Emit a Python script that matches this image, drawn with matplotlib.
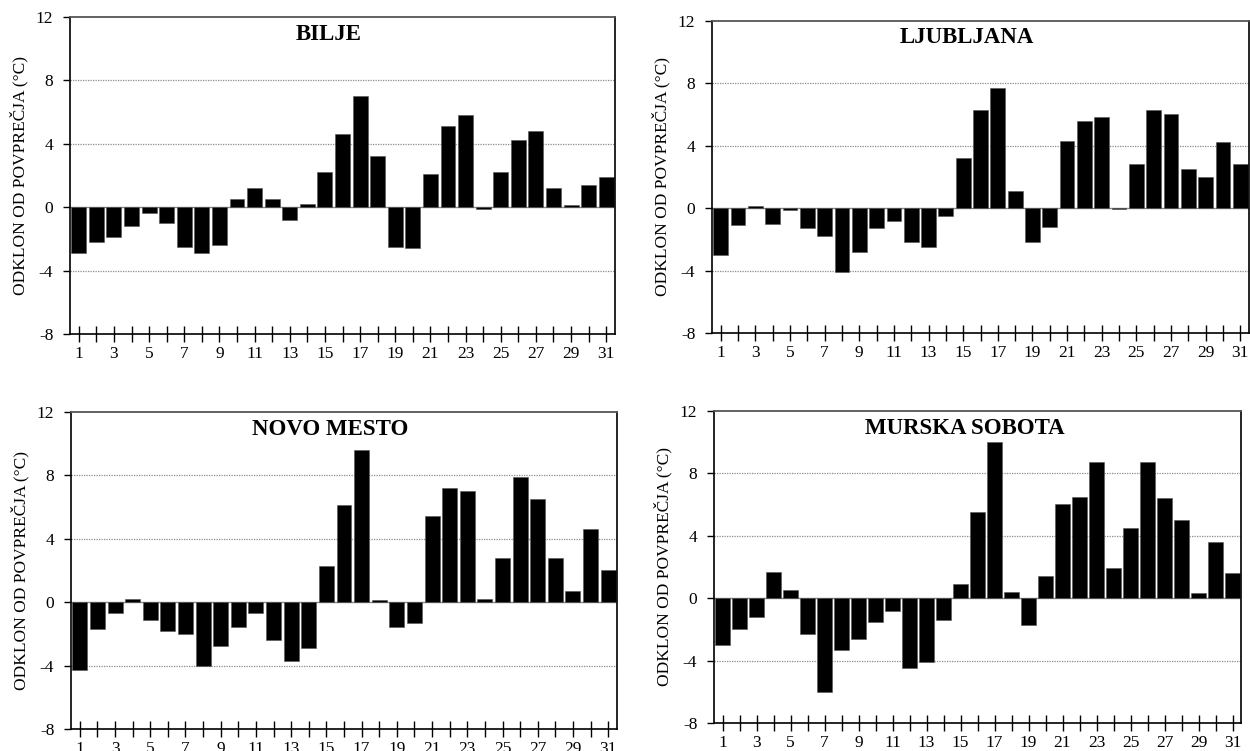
import matplotlib
matplotlib.use("Agg")
import matplotlib.pyplot as plt

plt.rcParams['font.family'] = ['Liberation Serif', 'DejaVu Serif']

days = list(range(1, 32))
day_labels = [str(d) if d % 2 == 1 else "" for d in days]
y_ticks = [-8, -4, 0, 4, 8, 12]
y_label = "ODKLON OD POVPREČJA (°C)"

bilje = [-2.9, -2.2, -1.9, -1.2, -0.4, -1.0, -2.5, -2.9, -2.4, 0.5,
         1.2, 0.5, -0.8, 0.2, 2.2, 4.6, 7.0, 3.2, -2.5, -2.6,
         2.1, 5.1, 5.8, -0.15, 2.2, 4.2, 4.8, 1.2, 0.1, 1.4, 1.9]
ljubljana = [-3.0, -1.1, 0.1, -1.0, -0.1, -1.3, -1.8, -4.1, -2.8, -1.3,
             -0.8, -2.2, -2.5, -0.5, 3.2, 6.3, 7.7, 1.1, -2.2, -1.2,
             4.3, 5.6, 5.8, -0.05, 2.8, 6.3, 6.0, 2.5, 2.0, 4.2, 2.8]
novo_mesto = [-4.3, -1.7, -0.7, 0.2, -1.1, -1.8, -2.0, -4.0, -2.8, -1.6,
              -0.7, -2.4, -3.7, -2.9, 2.3, 6.1, 9.6, 0.1, -1.6, -1.3,
              5.4, 7.2, 7.0, 0.2, 2.8, 7.9, 6.5, 2.8, 0.7, 4.6, 2.0]
murska_sobota = [-3.0, -2.0, -1.2, 1.7, 0.5, -2.3, -6.0, -3.3, -2.6, -1.5,
                 -0.8, -4.5, -4.1, -1.4, 0.9, 5.5, 10.0, 0.4, -1.7, 1.4,
                 6.0, 6.5, 8.7, 1.9, 4.5, 8.7, 6.4, 5.0, 0.3, 3.6, 1.6]

stations = ["BILJE", "LJUBLJANA", "NOVO MESTO", "MURSKA SOBOTA"]
series = [bilje, ljubljana, novo_mesto, murska_sobota]

# axes rectangles in figure fractions: [left, bottom, width, height]
rects = [
    [0.0560, 0.5553, 0.4360, 0.4225],
    [0.5696, 0.5566, 0.4296, 0.4160],
    [0.0568, 0.0293, 0.4368, 0.4225],
    [0.5712, 0.0373, 0.4216, 0.4158],
]

fig = plt.figure(figsize=(12.5, 7.51), dpi=100)

for name, vals, rect in zip(stations, series, rects):
    ax = fig.add_axes(rect)
    for g in (8, 4, -4):
        ax.axhline(g, color="#8a8a8a", lw=0.9, ls=(0, (1, 1)), zorder=1)
    ax.axhline(0, color="#8a8a8a", lw=1.0, zorder=1)
    ax.bar(days, vals, width=0.85, color="black", edgecolor="#555555",
           linewidth=0.4, zorder=2)

    ax.set_xlim(0.5, 31.5)
    ax.set_ylim(-8, 12)
    ax.set_yticks(y_ticks)
    ax.set_yticklabels([str(t) for t in y_ticks])
    ax.set_xticks(days)
    ax.set_xticklabels(day_labels)

    ax.tick_params(axis="y", direction="out", length=5, width=1,
                   pad=7, labelsize=12.5, colors="black")
    ax.tick_params(axis="x", direction="inout", length=11, width=1,
                   pad=3, labelsize=12.5, colors="black")

    for side in ("left", "bottom", "right"):
        ax.spines[side].set_color("black")
        ax.spines[side].set_linewidth(1.2)
    ax.spines["top"].set_color("#555555")
    ax.spines["top"].set_linewidth(1.3)

    ax.set_ylabel(y_label, fontsize=12.5, labelpad=5)
    ax.text(0.475, 0.978, name, transform=ax.transAxes, ha="center",
            va="top", fontsize=16.5, fontweight="bold")

fig.savefig("out.png", dpi=100)
